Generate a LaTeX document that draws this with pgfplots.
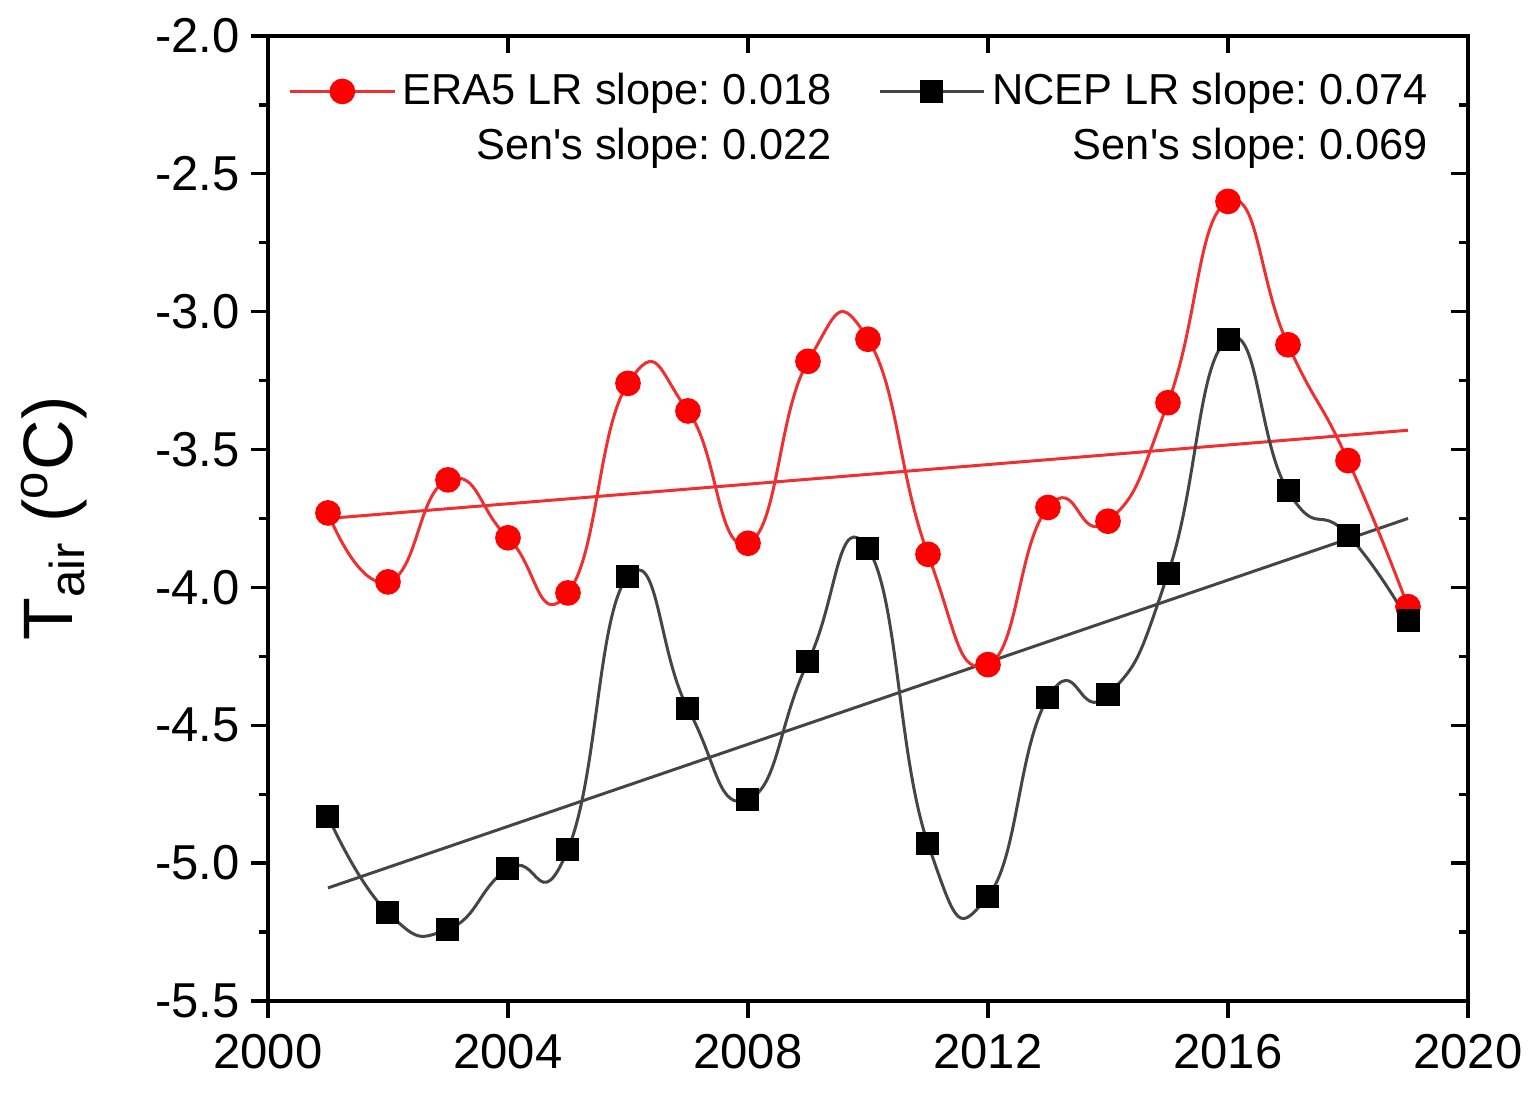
\documentclass[border=0pt]{standalone}
\usepackage{fontspec}
\setmainfont{Liberation Sans}
\usepackage{pgfplots}
\pgfplotsset{compat=1.18}
\definecolor{eraRed}{HTML}{FF0000}
\definecolor{eraLine}{HTML}{F03030}
\definecolor{ncepLine}{HTML}{454545}
\frenchspacing

\begin{document}
\begin{tikzpicture}
  \pgfplotsset{
    frame/.style={
      scale only axis,
      width=360pt, height=289.5pt,
      xmin=2000, xmax=2020,
      ymin=-5.5, ymax=-2.0,
      xtick={2000,2004,...,2020},
      ytick={-5.5,-5.0,...,-2.0},
      minor x tick num=1,
      minor y tick num=1,
      axis line style={line width=1pt},
      every tick/.style={black, line width=1pt},
      major tick length=5pt,
      minor tick length=2.8pt,
    }
  }
  \begin{axis}[
    frame,
    name=main,
    tick align=outside,
    xtick pos=bottom, ytick pos=left,
    /pgf/number format/assume math mode=true,
    x tick label style={/pgf/number format/1000 sep={}, font=\fontsize{14.7}{16}\selectfont, yshift=-1.5pt},
    y tick label style={/pgf/number format/.cd, fixed, fixed zerofill, precision=1, /tikz/.cd, font=\fontsize{14.7}{16}\selectfont},
    ylabel={T\textsubscript{air} (\textsuperscript{o}C)},
    every axis y label/.style={at={(axis description cs:-0.178,0.5)}, rotate=90, anchor=center, font=\fontsize{21}{24}\selectfont},
    legend columns=2,
    legend image code/.code={\draw[mark repeat=2,mark phase=2] plot coordinates {(0cm,0cm) (0.55cm,0cm) (1.1cm,0cm)};},
    legend style={draw=none, fill=none, at={(0.0167,0.969)}, anchor=north west,
      font=\fontsize{13}{14.5}\selectfont, inner sep=0pt,
      row sep=1.5pt, column sep=0pt,
      cells={anchor=east},
      /tikz/every even column/.append style={column sep=12pt}},
  ]
    % linear trends
    \addplot[eraLine, line width=0.9pt, forget plot] coordinates {(2001,-3.75) (2019,-3.43)};
    \addplot[ncepLine, line width=0.9pt, forget plot] coordinates {(2001,-5.09) (2019,-3.75)};

    % ERA5
    \addplot[eraLine, line width=0.9pt, smooth, tension=0.9,
      mark=*, mark size=3.4pt, mark options={fill=eraRed, draw=eraRed}]
      coordinates {
        (2001,-3.73) (2002,-3.98) (2003,-3.61) (2004,-3.82) (2005,-4.02)
        (2006,-3.26) (2007,-3.36) (2008,-3.84) (2009,-3.18) (2010,-3.10)
        (2011,-3.88) (2012,-4.28) (2013,-3.71) (2014,-3.76) (2015,-3.33)
        (2016,-2.60) (2017,-3.12) (2018,-3.54) (2019,-4.07)
      };
    % NCEP
    \addplot[ncepLine, line width=0.9pt, smooth, tension=0.9,
      mark=square*, mark size=3pt, mark options={fill=black, draw=black}]
      coordinates {
        (2001,-4.83) (2002,-5.18) (2003,-5.24) (2004,-5.02) (2005,-4.95)
        (2006,-3.96) (2007,-4.44) (2008,-4.77) (2009,-4.27) (2010,-3.86)
        (2011,-4.93) (2012,-5.12) (2013,-4.40) (2014,-4.39) (2015,-3.95)
        (2016,-3.10) (2017,-3.65) (2018,-3.81) (2019,-4.12)
      };
    \addlegendimage{empty legend}
    \addlegendimage{empty legend}
    \legend{ERA5 LR slope: 0.018, NCEP LR slope: 0.074,
            Sen\textquotesingle s slope: 0.022, Sen\textquotesingle s slope: 0.069}
  \end{axis}
  \begin{axis}[
    frame,
    tick align=inside,
    xtick pos=top, ytick pos=right,
    xticklabels={}, yticklabels={},
  ]
  \end{axis}
  \pgfresetboundingbox
  \path[use as bounding box] ([xshift=-80.4pt, yshift=-29.7pt] main.south west)
    rectangle ([xshift=20.4pt, yshift=10.8pt] main.north east);
\end{tikzpicture}
\end{document}
